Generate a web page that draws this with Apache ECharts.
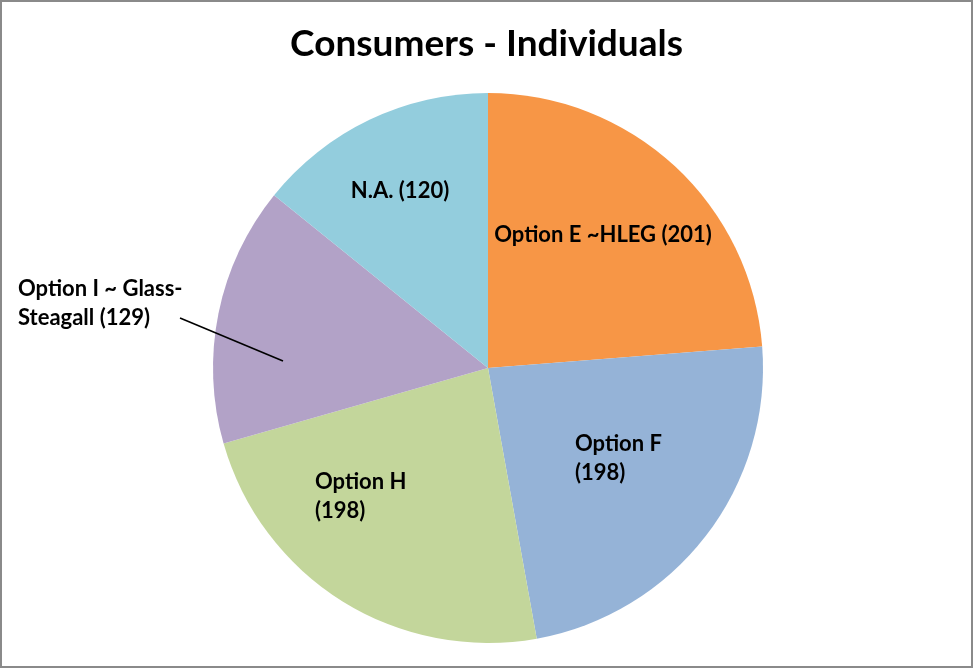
<!DOCTYPE html>
<html>
<head>
<meta charset="utf-8">
<script src="https://cdn.jsdelivr.net/npm/echarts@6/dist/echarts.min.js"></script>
<style>
html,body{margin:0;padding:0;background:#fff;}
#frame{position:absolute;left:0;top:0;width:973px;height:668px;box-sizing:border-box;border:2px solid #8a8a8a;}
#chart{position:absolute;left:0;top:0;width:973px;height:668px;}
</style>
</head>
<body>
<div id="frame"></div>
<div id="chart"></div>
<script>
const titleText = 'Consumers - Individuals';
const categories = ['Option E ~HLEG', 'Option F', 'Option H', 'Option I ~ Glass-Steagall', 'N.A.'];
const labelTexts = ['Option E ~HLEG (201)', 'Option F\n(198)', 'Option H\n(198)', 'Option I ~ Glass-\nSteagall (129)', 'N.A. (120)'];
const values = [201, 198, 198, 129, 120];
const colors = ['#F79646', '#95B3D7', '#C3D69B', '#B2A2C7', '#93CDDD'];

const FONT = 'Lato, "Open Sans", sans-serif';
const cx = 488, cy = 368, R = 275;

// label anchor positions (label layout, not data)
const labelPos = [
  {x: 603, y: 235, align: 'center'},
  {x: 575, y: 458, align: 'left'},
  {x: 315, y: 496, align: 'left'},
  {x: 18,  y: 303, align: 'left'},
  {x: 400, y: 191, align: 'center'}
];
const OUTSIDE = 3;

const labelStyle = {fontFamily: FONT, fontWeight: 'bold', fontSize: 22, color: '#000', lineHeight: 29};

function layoutFn(p) {
  const lp = labelPos[p.dataIndex];
  const o = {x: lp.x, y: lp.y, align: lp.align, verticalAlign: 'middle'};
  if (p.dataIndex === OUTSIDE) {
    const sx = lp.x + 162, sy = lp.y + 15;
    const ex = cx - 205, ey = cy - 7;
    o.labelLinePoints = [[sx, sy], [(sx + ex) / 2, (sy + ey) / 2], [ex, ey]];
  }
  return o;
}

const chart = echarts.init(document.getElementById('chart'), null, {renderer: 'canvas'});

// base pie: sectors + inside labels
const baseData = values.map((v, i) => ({
  name: categories[i],
  value: v,
  itemStyle: {color: colors[i]},
  label: {show: i !== OUTSIDE, position: 'inside', formatter: labelTexts[i]},
  labelLine: {show: false}
}));

// overlay pie: transparent sectors, only the outside label with its leader line drawn on top
const overlayData = values.map((v, i) => ({
  name: categories[i],
  value: v,
  itemStyle: {color: 'rgba(0,0,0,0)'},
  label: {show: i === OUTSIDE, position: 'outside', formatter: labelTexts[i]},
  labelLine: {show: i === OUTSIDE, lineStyle: {color: '#000', width: 1.6}}
}));

const common = {
  type: 'pie',
  center: [cx, cy],
  radius: [0, R],
  startAngle: 90,
  clockwise: true,
  avoidLabelOverlap: false,
  silent: true,
  itemStyle: {borderWidth: 0},
  label: labelStyle,
  labelLayout: layoutFn
};

chart.setOption({
  animation: false,
  title: {
    text: titleText,
    left: 'center',
    top: 21,
    textStyle: {fontFamily: FONT, fontWeight: 'bold', fontSize: 37, color: '#000'}
  },
  series: [
    Object.assign({}, common, {data: baseData, z: 2}),
    Object.assign({}, common, {data: overlayData, z: 3})
  ]
});
</script>
</body>
</html>
